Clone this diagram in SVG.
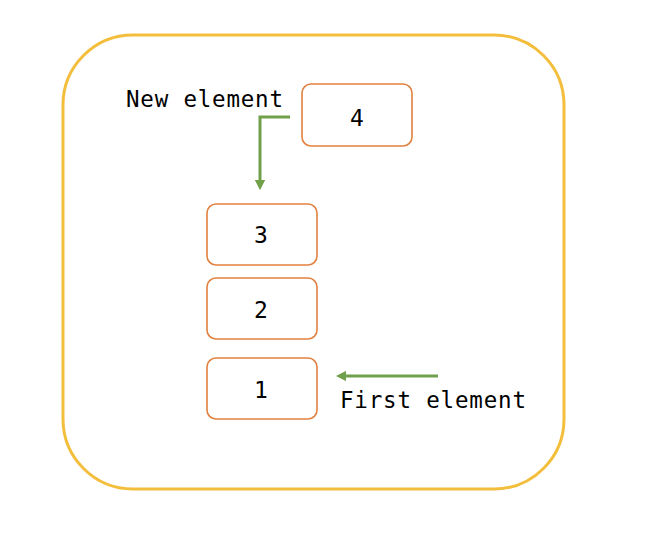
<svg xmlns="http://www.w3.org/2000/svg" width="648" height="540" viewBox="0 0 648 540">
<style>
.box{fill:#fff;stroke:#E2803F;stroke-width:1.6}
.lbl{font-family:"DejaVu Sans Mono","Liberation Mono",monospace;font-size:22.5px;fill:#000}
.dig{font-family:"DejaVu Sans Mono","Liberation Mono",monospace;font-size:23px;fill:#000;text-anchor:middle}
.con{fill:none;stroke:#71A04A;stroke-width:3}
</style>
<defs>
<marker id="ah" viewBox="0 0 10 10" refX="0" refY="5" markerWidth="3.4" markerHeight="3.4" orient="auto" markerUnits="strokeWidth">
<path d="M0,0 L10,5 L0,10 z" fill="#71A04A"/>
</marker>
</defs>
<rect width="648" height="540" fill="#fff"/>
<g id="container">
<rect x="63" y="35" width="501" height="454" rx="70" ry="70" fill="none" stroke="#F4BE3D" stroke-width="3"/>
</g>
<g id="node4"><rect class="box" x="302" y="84" width="110" height="62" rx="9"/><text class="dig" x="357" y="126">4</text></g>
<g id="node3"><rect class="box" x="207" y="204" width="110" height="61" rx="9"/><text class="dig" x="261" y="243">3</text></g>
<g id="node2"><rect class="box" x="207" y="278" width="110" height="61" rx="9"/><text class="dig" x="261" y="318">2</text></g>
<g id="node1"><rect class="box" x="207" y="358" width="110" height="61" rx="9"/><text class="dig" x="261" y="398">1</text></g>
<g id="labels">
<text class="lbl" x="126" y="107" textLength="157">New element</text>
<text class="lbl" x="340" y="408" textLength="186">First element</text>
</g>
<g id="connectors">
<path class="con" d="M290,117 H260 V180" marker-end="url(#ah)"/>
<path class="con" d="M438,376 H346" marker-end="url(#ah)"/>
</g>
</svg>
